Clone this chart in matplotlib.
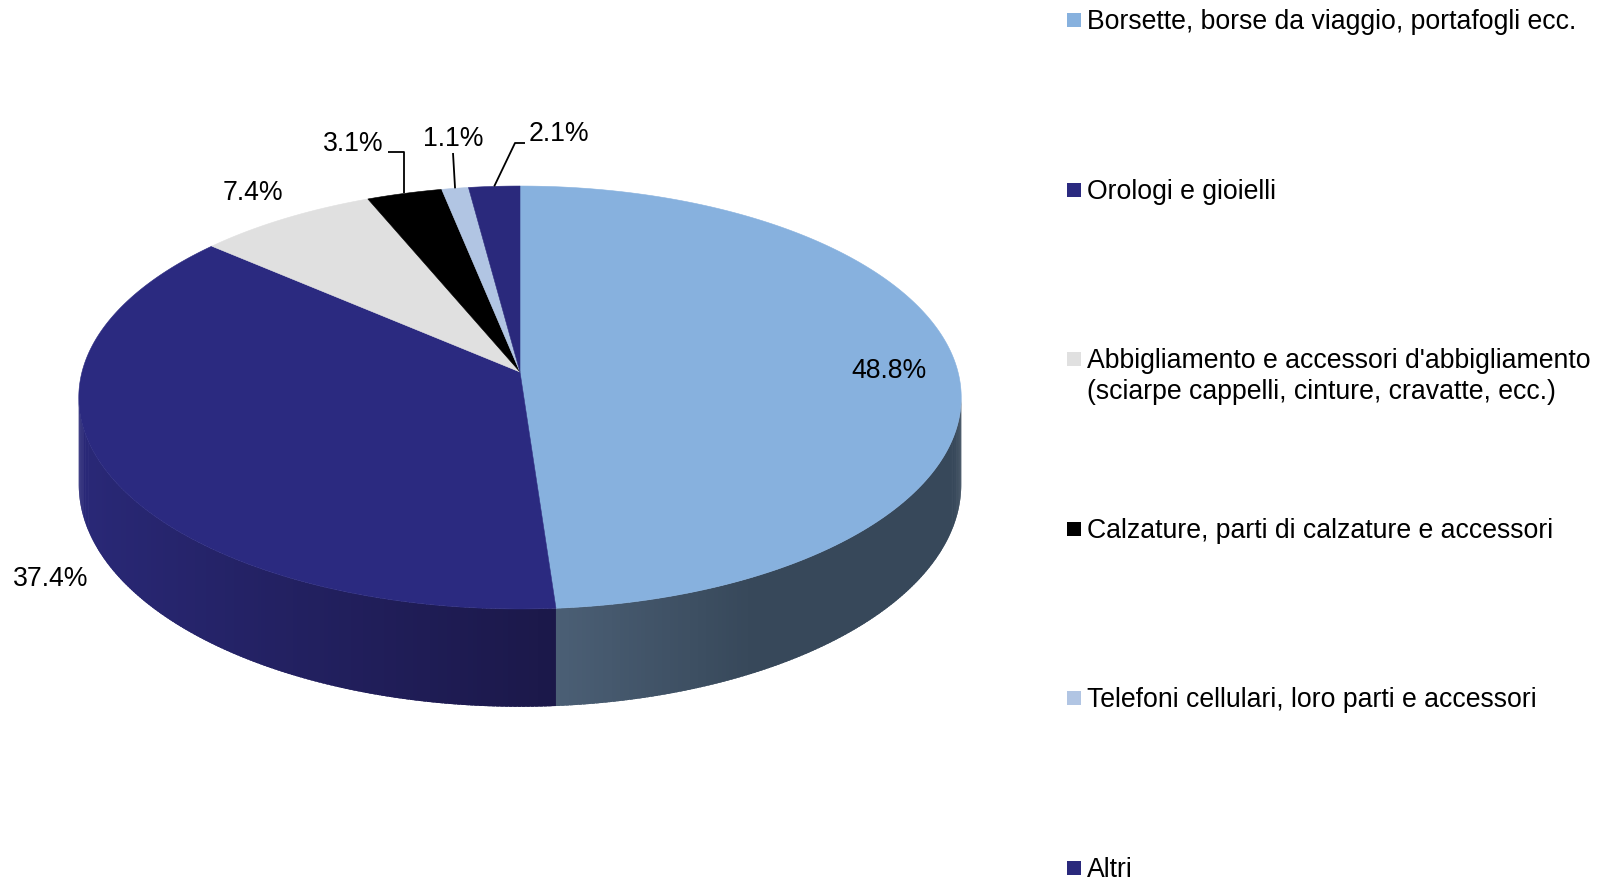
import numpy as np
import matplotlib
matplotlib.use("Agg")
import matplotlib.pyplot as plt
from matplotlib.collections import PolyCollection
from matplotlib.patches import Polygon, Rectangle
from matplotlib.colors import to_rgb

# ---------------- data ----------------
categories = [
    "Borsette, borse da viaggio, portafogli ecc.",
    "Orologi e gioielli",
    "Abbigliamento e accessori d'abbigliamento\n(sciarpe cappelli, cinture, cravatte, ecc.)",
    "Calzature, parti di calzature e accessori",
    "Telefoni cellulari, loro parti e accessori",
    "Altri",
]
shares = [48.8, 37.4, 7.4, 3.1, 1.1, 2.1]
value_labels = ["48.8%", "37.4%", "7.4%", "3.1%", "1.1%", "2.1%"]

# ---------------- style ----------------
top_colors = ["#87B1DE", "#2B2A80", "#E0E0E0", "#000000", "#B1C5E3", "#2A297C"]
side_near = ["#4B5F75", "#1B1849", "#8F8F8F", "#000000", "#6F7F98", "#1B1849"]
side_far = ["#37485A", "#2A2979", "#A8A8A8", "#000000", "#8898B0", "#2A2979"]
side_span = [0.40, 1.07, 1.0, 1.0, 1.0, 1.0]

W, H = 1610, 883
fig = plt.figure(figsize=(W / 100, H / 100), dpi=100)
ax = fig.add_axes([0, 0, 1, 1])
ax.set_xlim(0, W)
ax.set_ylim(H, 0)
ax.axis("off")

FONT = "Liberation Sans"
FS = 19.2
DY = 3  # vertical text nudge (px)

# perspective ellipse geometry (pixels)
cx, cy = 520.0, 372.0
S, A, B, D = 438.0, 208.4, -0.1206, 86.0


def proj(r, theta, z=0.0):
    u = r * np.sin(theta)
    v = -r * np.cos(theta)
    den = 1 + B * v
    return cx + S * u / den, cy + (A * v + z * D) / den


total = sum(shares)
fracs = np.array(shares) / total
edges = np.concatenate([[0], np.cumsum(fracs)]) * 2 * np.pi

# visible side range (extreme left/right of the ellipse)
th_R = np.arccos(-0.12)
th_L = 2 * np.pi - th_R

# ---- side walls ----
polys, cols = [], []
for i in range(len(shares)):
    a0, a1 = edges[i], edges[i + 1]
    lo, hi = max(a0, th_R), min(a1, th_L)
    if hi <= lo:
        continue
    n = max(int(np.degrees(hi - lo) * 2), 2)
    ts = np.linspace(lo, hi, n + 1)
    step = ts[1] - ts[0]
    tb = a1 if abs(a1 - np.pi) < abs(a0 - np.pi) else a0
    ub = np.sin(tb)
    cn, cf = np.array(to_rgb(side_near[i])), np.array(to_rgb(side_far[i]))
    for k in range(n):
        t0 = ts[k]
        t1 = min(ts[k + 1] + 0.8 * step, hi)
        p = [proj(1, t0), proj(1, t1), proj(1, t1, 1), proj(1, t0, 1)]
        um = np.sin(t0 + 0.5 * step)
        f = np.clip(abs(um - ub) / side_span[i], 0, 1)
        c = cn * (1 - f) + cf * f
        polys.append(p)
        cols.append(c)
ax.add_collection(PolyCollection(polys, facecolors=cols, edgecolors="none",
                                 linewidths=0, antialiased=True, zorder=1))

# ---- top faces ----
for i in range(len(shares)):
    a0, a1 = edges[i], edges[i + 1]
    n = max(int(np.degrees(a1 - a0) * 2), 4)
    ts = np.linspace(a0, a1, n + 1)
    pts = [proj(1, t) for t in ts] + [(cx, cy)]
    ax.add_patch(Polygon(pts, closed=True, facecolor=top_colors[i],
                         edgecolor=top_colors[i], linewidth=0.4, zorder=2))

# ---- data labels ----
label_pos = [(889, 368), (51, 576), (253, 190), (353, 141), (453, 136), (559, 131)]
leader_start = [None, None, None, (388, 152), (453, 153), (525, 143)]
leader_elbow = [None, None, None, "x", None, (515, 143)]
mids = 0.5 * (edges[:-1] + edges[1:])
for i, lab in enumerate(value_labels):
    lx, ly = label_pos[i]
    ax.text(lx, ly + DY, lab, fontsize=FS, family=FONT, ha="center",
            va="center", color="black", zorder=5)
    if leader_start[i] is not None:
        rx, ry = proj(1, mids[i])
        sx, sy = leader_start[i]
        if leader_elbow[i] == "x":
            xs, ys = [sx, rx, rx], [sy, sy, ry]
        elif leader_elbow[i] is None:
            xs, ys = [sx, rx], [sy, ry]
        else:
            ex, ey = leader_elbow[i]
            xs, ys = [sx, ex, rx], [sy, ey, ry]
        ax.plot(xs, ys, color="black", lw=1.3, zorder=4, solid_capstyle="butt")

# ---- legend ----
leg_x, leg_y0, leg_dy, line_h = 1067, 20, 169.6, 30.5
for i, cat in enumerate(categories):
    y = leg_y0 + i * leg_dy
    ax.add_patch(Rectangle((leg_x, y - 7), 14, 14, facecolor=top_colors[i],
                           edgecolor="none", zorder=3))
    for j, line in enumerate(cat.split("\n")):
        ax.text(leg_x + 20, y + j * line_h + 2, line, fontsize=FS, family=FONT,
                ha="left", va="center", color="black")

fig.savefig("out.png", dpi=100)
